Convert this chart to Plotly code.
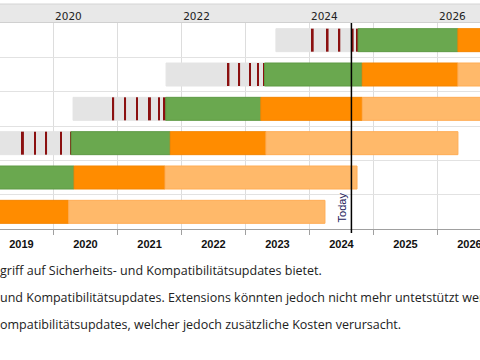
import plotly.graph_objects as go
import pandas as pd

# ---- data ----
versions = ["TYPO3 13 LTS", "TYPO3 12 LTS", "TYPO3 11 LTS", "TYPO3 10 LTS", "TYPO3 9 LTS", "TYPO3 8 LTS"]
row_pos = [1, 2, 3, 4, 5, 6]

dev_start    = ["2023-06-24", "2021-10-05", "2020-04-22", "2018-10-02", None, None]
lts_release  = ["2024-10-05", "2023-04-20", "2021-10-03", "2020-04-11", "2018-10-02", "2017-04-04"]
regular_end  = ["2026-04-28", "2024-10-29", "2023-03-30", "2021-10-29", "2020-04-28", "2018-10-01"]
security_end = ["2027-10-31", "2026-04-28", "2024-10-29", "2023-04-28", "2021-09-29", "2020-03-28"]
elts_end     = ["2030-10-31", "2029-04-30", "2027-10-31", "2026-04-28", "2024-09-29", "2024-03-30"]

sprint_rows  = [1, 1, 1, 1, 1,
                2, 2, 2, 2, 2,
                3, 3, 3, 3, 3, 3,
                4, 4, 4, 4, 4]
sprint_dates = ["2024-01-20", "2024-04-14", "2024-06-20", "2024-09-04", "2024-10-03",
                "2022-09-26", "2022-11-26", "2023-01-27", "2023-03-14", "2023-04-17",
                "2020-12-07", "2021-02-13", "2021-04-22", "2021-07-05", "2021-08-26", "2021-09-28",
                "2019-07-11", "2019-09-18", "2019-11-20", "2020-02-13", "2020-04-11"]

today = "2024-08-28"
top_years = ["2020-01-01", "2022-01-01", "2024-01-01", "2026-01-01"]
range_start, range_end = "2019-03-02", "2026-09-01"

notes = [
    "griff auf Sicherheits- und Kompatibilitätsupdates bietet.",
    "und Kompatibilitätsupdates. Extensions könnten jedoch nicht mehr untetstützt werden.",
    "ompatibilitätsupdates, welcher jedoch zusätzliche Kosten verursacht.",
]

# ---- colours ----
C_DEV, C_SPRINT = "#e4e4e4", "#8b1010"
C_REG, C_REG_L = "#6aa84f", "#5e9a45"
C_SEC, C_SEC_L = "#ff8c00", "#f58500"
C_ELTS, C_ELTS_L = "#ffb96a", "#ffad55"

BAR_W = 0.67


def segment(starts, ends, color, line, name):
    ys, bases, durs = [], [], []
    for r, s, e in zip(row_pos, starts, ends):
        if s is None:
            continue
        s, e = pd.Timestamp(s), pd.Timestamp(e)
        ys.append(r)
        bases.append(s.strftime("%Y-%m-%d"))
        durs.append((e - s).total_seconds() * 1000)
    return go.Bar(y=ys, x=durs, base=bases, orientation="h", width=BAR_W, name=name,
                  marker=dict(color=color, line=dict(color=line, width=1)),
                  hoverinfo="skip", showlegend=False)


fig = go.Figure()
fig.add_trace(segment(dev_start, lts_release, C_DEV, C_DEV, "Sprint"))

half = pd.Timedelta(days=5.5)
fig.add_trace(go.Bar(
    y=sprint_rows,
    x=[2 * half.total_seconds() * 1000] * len(sprint_dates),
    base=[(pd.Timestamp(d) - half).strftime("%Y-%m-%d %H:%M") for d in sprint_dates],
    orientation="h", width=BAR_W, marker=dict(color=C_SPRINT, line=dict(width=0)),
    hoverinfo="skip", showlegend=False))

fig.add_trace(segment(lts_release, regular_end, C_REG, C_REG_L, "Regular"))
fig.add_trace(segment(regular_end, security_end, C_SEC, C_SEC_L, "Security"))
fig.add_trace(segment(security_end, elts_end, C_ELTS, C_ELTS_L, "ELTS"))

# invisible helper so the top year axis is drawn
fig.add_trace(go.Scatter(x=top_years, y=[1] * len(top_years), xaxis="x2", yaxis="y",
                         mode="markers", marker=dict(opacity=0, size=1),
                         hoverinfo="skip", showlegend=False))

# plot area: pixel 23 (top) .. 229 (bottom)
P_TOP, P_BOT = 23, 229
PH = P_BOT - P_TOP


def py(p):
    return (P_BOT - p) / PH


fig.update_layout(
    width=480, height=360,
    margin=dict(l=0, r=0, t=P_TOP, b=360 - P_BOT, pad=0),
    paper_bgcolor="white", plot_bgcolor="white",
    barmode="overlay", showlegend=False, template="none",
    xaxis=dict(type="date", range=[range_start, range_end], automargin=False,
               tick0="2019-01-01", dtick="M12", tickformat="%Y", ticklabelmode="period",
               ticklabeloverflow="allow",
               showgrid=True, gridcolor="#dddddd", gridwidth=1,
               showline=True, linecolor="#a0a0a0", linewidth=1,
               ticks="outside", ticklen=5, tickcolor="#a0a0a0",
               tickfont=dict(family="Liberation Sans", size=11, color="#111111", weight="bold"),
               zeroline=False),
    xaxis2=dict(type="date", overlaying="x", side="top", anchor="y",
                range=[range_start, range_end], automargin=False,
                tickvals=top_years, tickformat="%Y", ticklabelshift=15,
                ticklabeloverflow="allow",
                showgrid=False, showline=False, ticks="", zeroline=False,
                tickfont=dict(family="DejaVu Sans", size=10.5, color="#222222")),
    yaxis=dict(range=[6.5, 0.5], tickvals=[1.5, 2.5, 3.5, 4.5, 5.5], showticklabels=False,
               showgrid=True, gridcolor="#e2e2e2", gridwidth=1, zeroline=False,
               showline=False, ticks="", automargin=False),
)

# top header band
fig.add_shape(type="rect", xref="paper", yref="paper", x0=0, x1=1, y0=py(22), y1=py(4),
              fillcolor="#e8e8e8", line=dict(width=0), layer="below")
fig.add_shape(type="line", xref="paper", yref="paper", x0=0, x1=1, y0=py(4), y1=py(4),
              line=dict(color="#d4d4d4", width=1), layer="below")
fig.add_shape(type="line", xref="paper", yref="paper", x0=0, x1=1, y0=py(22.5), y1=py(22.5),
              line=dict(color="#d0d0d0", width=1), layer="below")

# today marker
fig.add_shape(type="line", xref="x", yref="paper", x0=today, x1=today, y0=py(233), y1=1,
              line=dict(color="black", width=1.5), layer="above")
fig.add_annotation(x=today, xref="x", y=py(207), yref="paper", text="Today", textangle=-90,
                   showarrow=False, xanchor="center", yanchor="middle", xshift=-9,
                   font=dict(family="Liberation Sans", size=11, color="#22205a"))

for t, p in zip(notes, [270, 297, 324]):
    fig.add_annotation(x=0, xref="paper", y=py(p), yref="paper", text=t, showarrow=False,
                       xanchor="left", yanchor="middle", xshift=-2,
                       font=dict(family="Open Sans", size=12.5, color="#222222"))

fig.write_html("out.html", config={"responsive": False, "displayModeBar": False},
               post_script="document.body.style.margin='0';document.body.style.overflow='hidden';")
